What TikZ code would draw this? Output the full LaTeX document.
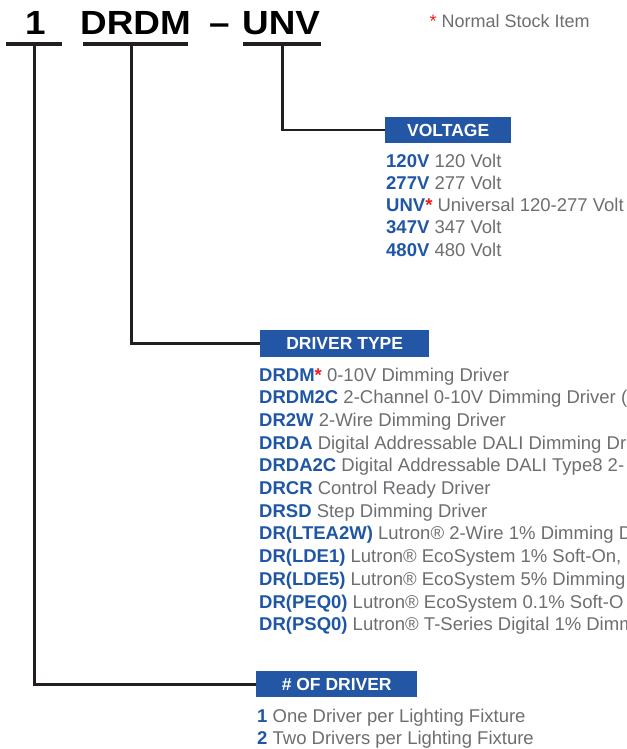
\documentclass[tikz,border=0pt]{standalone}
\usepackage{fontspec}
\setmainfont{Liberation Sans}
\newfontfamily\headfont[FakeStretch=1.1]{Liberation Sans}
\definecolor{boxblue}{HTML}{2356A5}
\definecolor{codeblue}{HTML}{1F57A6}
\definecolor{descgray}{HTML}{6D6E71}
\definecolor{starred}{HTML}{ED1C24}
\definecolor{linedark}{HTML}{231F20}
\newcommand{\cd}[1]{{\color{codeblue}\bfseries #1}}
\newcommand{\rstar}{{\color{starred}*}}
\begin{document}
\begin{tikzpicture}[x=1pt,y=-1pt,
  head/.style={anchor=base west, inner sep=0, font=\headfont\bfseries\fontsize{33.5}{33.5}\selectfont, text=black},
  bar/.style={fill=linedark, inner sep=0, minimum height=4, anchor=north west},
  conn/.style={draw=linedark, line width=2.6pt, line join=miter},
  hdrbox/.style={fill=boxblue, text=white, inner sep=0, minimum height=26, anchor=north west, font=\bfseries\fontsize{17.5}{17.5}\selectfont},
  item/.style={anchor=base west, inner sep=0, text=descgray, font=\fontsize{18.5}{18.5}\selectfont},
]
\path[use as bounding box] (0,0) rectangle (626,749);
\clip (0,0) rectangle (626,749);

% header code
\node[head] (h1) at (25,34.5) {1};
\node[head] (h2) at (80,34.5) {DRDM};
\node[head] (hd) at (209,34.5) {–};
\node[head] (h3) at (242,34.5) {UNV};
\node[item, font=\fontsize{18}{18}\selectfont] (note) at (429.5,28) {\rstar{} Normal Stock Item};

% underline bars
\node[bar, minimum width=56] (bar1) at (6,42) {};
\node[bar, minimum width=105] (bar2) at (83,42) {};
\node[bar, minimum width=78] (bar3) at (243,42) {};

% header boxes
\node[hdrbox, minimum width=126] (volt) at (385,117) {VOLTAGE};
\node[hdrbox, minimum width=169, minimum height=27] (drv) at (260,330) {DRIVER TYPE};
\node[hdrbox, minimum width=161] (num) at (256,671) {\# OF DRIVER};

% connectors
\draw[conn] (bar3.south) |- (volt.west);
\draw[conn] ([xshift=-4pt]bar2.south) |- (drv.west);
\draw[conn] (bar1.south) |- (num.west);

% voltage list
\node[item] (v1) at (386,167) {\cd{120V} 120 Volt};
\node[item] (v2) at (386,189.3) {\cd{277V} 277 Volt};
\node[item] (v3) at (386,211.6) {\cd{UNV\rstar} Universal 120-277 Volt};
\node[item] (v4) at (386,233.9) {\cd{347V} 347 Volt};
\node[item] (v5) at (386,256.2) {\cd{480V} 480 Volt};

% driver type list
\node[item] (d1) at (259,381) {\cd{DRDM\rstar} 0-10V Dimming Driver};
\node[item] (d2) at (259,403.7) {\cd{DRDM2C} 2-Channel 0-10V Dimming Driver (};
\node[item] (d3) at (259,426.4) {\cd{DR2W} 2-Wire Dimming Driver};
\node[item] (d4) at (259,449.1) {\cd{DRDA} Digital Addressable DALI Dimming Dr};
\node[item] (d5) at (259,471.8) {\cd{DRDA2C} Digital Addressable DALI Type8 2-};
\node[item] (d6) at (259,494.5) {\cd{DRCR} Control Ready Driver};
\node[item] (d7) at (259,517.2) {\cd{DRSD} Step Dimming Driver};
\node[item] (d8) at (259,539.9) {\cd{DR(LTEA2W)} Lutron® 2-Wire 1\% Dimming D};
\node[item] (d9) at (259,562.6) {\cd{DR(LDE1)} Lutron® EcoSystem 1\% Soft-On,};
\node[item] (d10) at (259,585.3) {\cd{DR(LDE5)} Lutron® EcoSystem 5\% Dimming};
\node[item] (d11) at (259,608) {\cd{DR(PEQ0)} Lutron® EcoSystem 0.1\% Soft-O};
\node[item] (d12) at (259,630.7) {\cd{DR(PSQ0)} Lutron® T-Series Digital 1\% Dimm};

% number list
\node[item] (n1) at (257,722) {\cd{1} One Driver per Lighting Fixture};
\node[item] (n2) at (257,744) {\cd{2} Two Drivers per Lighting Fixture};
\end{tikzpicture}
\end{document}
